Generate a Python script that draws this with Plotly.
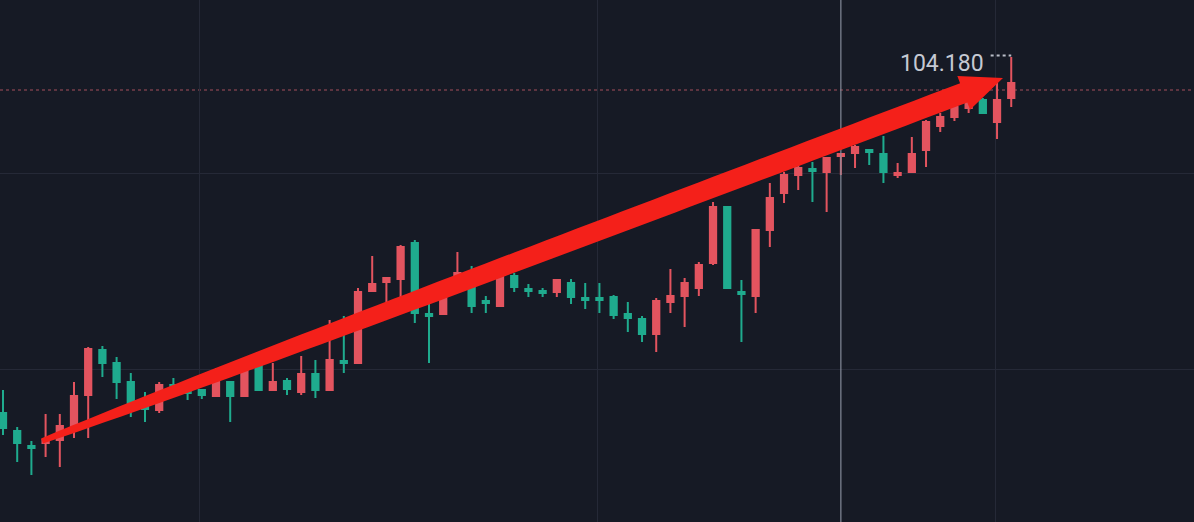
import math
import plotly.graph_objects as go

# ---- data ----
idx = list(range(72))
opens = [100.62, 100.44, 100.29, 100.32, 100.35, 100.49, 100.80, 101.25, 101.12, 100.93,
         100.68, 100.65, 100.90, 100.84, 100.85, 100.79, 100.93, 100.79, 101.11, 100.85,
         100.94, 100.83, 101.01, 100.85, 101.14, 101.12, 101.84, 101.93, 101.96, 102.32,
         101.61, 101.61, 101.92, 101.89, 101.74, 101.69, 101.99, 101.86, 101.84, 101.83,
         101.92, 101.77, 101.77, 101.78, 101.61, 101.56, 101.41, 101.73, 101.79, 101.87,
         102.12, 102.68, 101.83, 101.79, 102.45, 102.82, 103.00, 103.06, 103.03, 103.19,
         103.22, 103.25, 103.21, 103.00, 103.03, 103.25, 103.49, 103.58, 103.67, 103.75,
         103.53, 103.77]
highs = [100.85, 100.48, 100.34, 100.61, 100.61, 100.93, 101.28, 101.29, 101.18, 101.02,
         100.83, 100.93, 100.97, 100.91, 100.86, 101.07, 100.93, 101.12, 101.18, 101.12,
         100.97, 101.19, 101.15, 101.55, 101.59, 101.87, 102.19, 101.97, 102.30, 102.35,
         101.72, 101.92, 102.23, 102.09, 101.79, 101.98, 102.02, 101.91, 101.87, 101.96,
         101.96, 101.92, 101.92, 101.80, 101.73, 101.59, 101.77, 102.06, 101.97, 102.13,
         102.73, 102.68, 101.95, 102.46, 102.92, 103.03, 103.28, 103.13, 103.17, 103.22,
         103.30, 103.25, 103.39, 103.12, 103.38, 103.55, 103.62, 103.72, 103.79, 103.77,
         103.97, 104.18]
lows = [100.40, 100.13, 100.00, 100.18, 100.08, 100.37, 100.37, 100.98, 100.76, 100.58,
        100.53, 100.62, 100.80, 100.75, 100.76, 100.79, 100.53, 100.79, 100.85, 100.85,
        100.80, 100.80, 100.77, 100.85, 101.02, 101.12, 101.84, 101.69, 101.73, 101.52,
        101.12, 101.60, 101.85, 101.62, 101.62, 101.69, 101.83, 101.78, 101.78, 101.78,
        101.71, 101.66, 101.62, 101.56, 101.43, 101.33, 101.23, 101.62, 101.48, 101.79,
        102.10, 101.87, 101.33, 101.62, 102.28, 102.72, 102.85, 102.73, 102.63, 103.00,
        103.07, 103.10, 102.92, 102.97, 103.03, 103.08, 103.43, 103.54, 103.62, 103.62,
        103.36, 103.68]
closes = [100.47, 100.32, 100.27, 100.35, 100.49, 100.79, 101.26, 101.12, 100.93, 100.67,
          100.66, 100.90, 100.83, 100.82, 100.80, 100.93, 100.79, 101.11, 100.85, 100.93,
          100.86, 101.01, 100.85, 101.15, 101.12, 101.83, 101.91, 101.97, 102.28, 101.62,
          101.59, 101.91, 102.02, 101.69, 101.72, 101.98, 101.88, 101.84, 101.82, 101.95,
          101.78, 101.75, 101.75, 101.60, 101.57, 101.41, 101.74, 101.79, 101.92, 102.10,
          102.68, 101.87, 101.81, 102.45, 102.77, 103.00, 103.07, 103.04, 103.17, 103.21,
          103.28, 103.23, 103.03, 103.02, 103.21, 103.53, 103.58, 103.68, 103.75, 103.62,
          103.75, 103.92]

last_price = 103.85
high_label = "104.180"
crosshair_idx = 59
arrow_from = (2.75, 100.34)
arrow_to = (70.42, 103.97)

# ---- view / style ----
W, H = 1194, 522
XR = [-0.211, 83.87]
YR = [99.53, 104.75]
BG = "#161a25"
GRID = "#252937"
UP = "#e3545f"
DOWN = "#1fab8e"
ARROW = "#f4201a"

fig = go.Figure()
fig.add_trace(go.Candlestick(
    x=idx, open=opens, high=highs, low=lows, close=closes,
    increasing=dict(fillcolor=UP, line=dict(color=UP, width=2)),
    decreasing=dict(fillcolor=DOWN, line=dict(color=DOWN, width=2)),
    whiskerwidth=0, hoverinfo="skip", showlegend=False,
))

# pixel helpers for the hand-drawn arrow
def to_px(i, p):
    return ((i - XR[0]) / (XR[1] - XR[0]) * W, (YR[1] - p) / (YR[1] - YR[0]) * H)

def to_data(x, y):
    return (XR[0] + x / W * (XR[1] - XR[0]), YR[1] - y / H * (YR[1] - YR[0]))

sx, sy = to_px(*arrow_from)
tx, ty = to_px(*arrow_to)
L = math.hypot(tx - sx, ty - sy)
ux, uy = (tx - sx) / L, (ty - sy) / L
nx, ny = uy, -ux  # normal (points up)
if ny > 0:
    nx, ny = -nx, -ny
head_len = 42
head_half = 18
base = L - head_len
upper, lower = [], []
steps = 60
for k in range(steps + 1):
    s = base * k / steps
    w = 2.8 + 7.6 * (1 - math.exp(-s / 240.0))
    cx, cy = sx + ux * s, sy + uy * s
    upper.append((cx + nx * w, cy + ny * w))
    lower.append((cx - nx * w, cy - ny * w))
bx, by = sx + ux * base, sy + uy * base
pts = upper + [(bx + nx * head_half, by + ny * head_half), (tx, ty),
               (bx - nx * head_half, by - ny * head_half)] + lower[::-1]
path = "M " + " L ".join("%.4f,%.5f" % to_data(x, y) for x, y in pts) + " Z"

shapes = [
    dict(type="line", xref="paper", x0=0, x1=1, yref="y", y0=last_price, y1=last_price,
         line=dict(color="rgba(214,96,110,0.75)", width=1, dash="dot"), layer="below"),
    dict(type="line", xref="x", x0=crosshair_idx, x1=crosshair_idx, yref="paper", y0=0, y1=1,
         line=dict(color="rgba(140,146,162,0.75)", width=1.5), layer="above"),
    dict(type="line", xref="x", x0=idx[-1] - 1.45, x1=idx[-1], yref="y",
         y0=highs[-1] + 0.015, y1=highs[-1] + 0.015,
         line=dict(color="#b9bdc8", width=2, dash="dot"), layer="above"),
    dict(type="path", xref="x", yref="y", path=path, fillcolor=ARROW,
         line=dict(width=0), layer="above"),
]

fig.update_layout(
    width=W, height=H,
    margin=dict(l=0, r=0, t=0, b=0),
    paper_bgcolor=BG, plot_bgcolor=BG,
    showlegend=False, hovermode=False,
    boxgap=0.37,
    shapes=shapes,
    annotations=[dict(
        x=idx[-1] - 1.75, y=highs[-1], xref="x", yref="y",
        text=high_label, showarrow=False, xanchor="right", yanchor="middle",
        yshift=-6, font=dict(family="Roboto", size=23, color="#c5c9d3"),
    )],
    xaxis=dict(range=XR, showticklabels=False, showgrid=True, gridcolor=GRID, gridwidth=1,
               tick0=13.87, dtick=28, zeroline=False, showline=False, ticks="",
               rangeslider=dict(visible=False), fixedrange=True),
    yaxis=dict(range=YR, showticklabels=False, showgrid=True, gridcolor=GRID, gridwidth=1,
               tick0=103.02, dtick=1.96, zeroline=False, showline=False, ticks="",
               fixedrange=True),
)

fig.write_html(
    "out.html",
    config={"displayModeBar": False},
    post_script="document.body.style.margin='0';document.body.style.overflow='hidden';"
                "document.body.style.background='%s';" % BG,
)
